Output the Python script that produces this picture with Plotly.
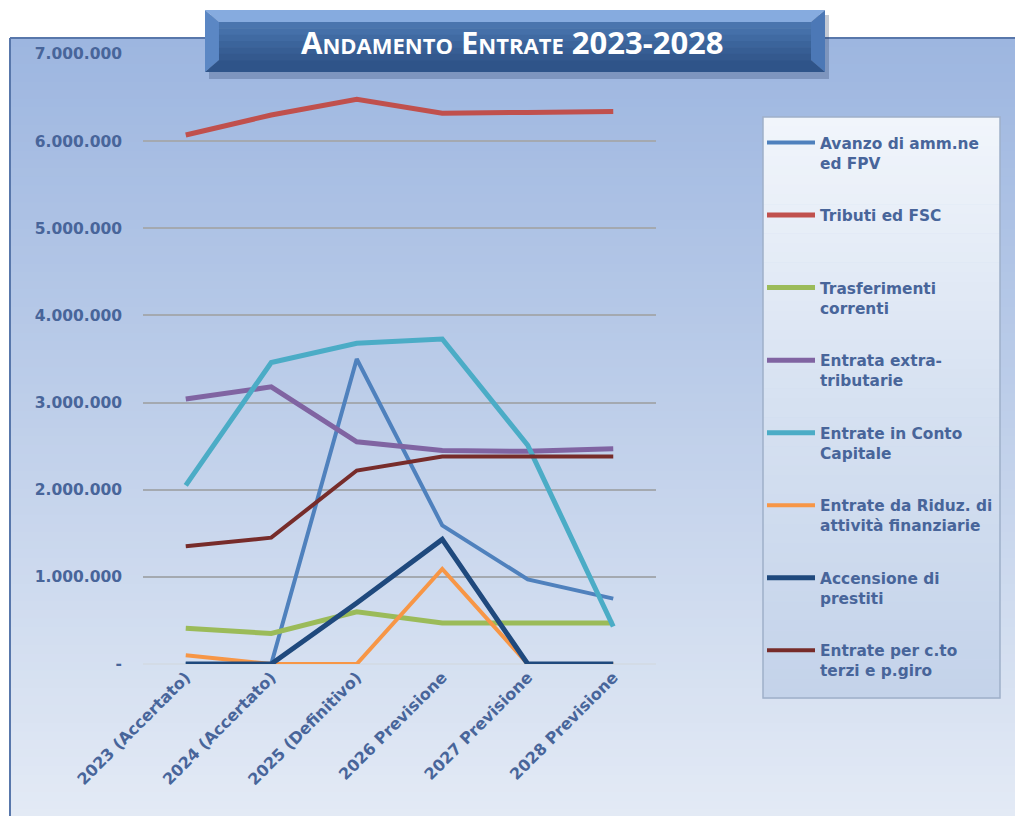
import plotly.graph_objects as go

W, H = 1015, 816
# plot area in pixels
PL, PR, PT, PB = 143, 656, 54, 664

categories = ["2023 (Accertato)", "2024 (Accertato)", "2025 (Definitivo)",
              "2026 Previsione", "2027 Previsione", "2028 Previsione"]

avanzo = [0, 0, 3500000, 1590000, 970000, 750000]
tributi = [6070000, 6300000, 6480000, 6320000, 6330000, 6340000]
trasferimenti = [410000, 350000, 600000, 470000, 470000, 470000]
extra_tributarie = [3040000, 3180000, 2550000, 2450000, 2440000, 2470000]
conto_capitale = [2050000, 3460000, 3680000, 3730000, 2510000, 430000]
riduz_attivita = [100000, 0, 0, 1090000, 0, 0]
accensione_prestiti = [0, 0, 700000, 1430000, 0, 0]
conto_terzi = [1350000, 1450000, 2220000, 2380000, 2380000, 2380000]

series_names = [
    "Avanzo di amm.ne<br>ed FPV",
    "Tributi ed FSC<br>\u00a0",
    "Trasferimenti<br>correnti",
    "Entrata extra-<br>tributarie",
    "Entrate in Conto<br>Capitale",
    "Entrate da Riduz. di<br>attività finanziarie",
    "Accensione di<br>prestiti",
    "Entrate per c.to<br>terzi e p.giro",
]
series_values = [avanzo, tributi, trasferimenti, extra_tributarie,
                 conto_capitale, riduz_attivita, accensione_prestiti, conto_terzi]
series_colors = ["#4f81bd", "#c0504d", "#9bbb59", "#8064a2",
                 "#4bacc6", "#f79646", "#1f497d", "#772c2a"]
series_widths = [4, 5, 5, 5, 5, 4, 5, 4]

y_ticks = [0, 1000000, 2000000, 3000000, 4000000, 5000000, 6000000, 7000000]
y_ticktext = ["-", "1.000.000", "2.000.000", "3.000.000", "4.000.000",
              "5.000.000", "6.000.000", "7.000.000"]

TXT = "#48659a"
FONT = "DejaVu Sans"


def px(x):
    return (x - PL) / (PR - PL)


def py(y):
    return (PB - y) / (PB - PT)


def hexmix(c1, c2, t):
    a = [int(c1[i:i + 2], 16) for i in (1, 3, 5)]
    b = [int(c2[i:i + 2], 16) for i in (1, 3, 5)]
    m = [round(a[k] + (b[k] - a[k]) * t) for k in range(3)]
    return "#%02x%02x%02x" % tuple(m)


def vgradient(x0, y0, x1, y1, stops, n):
    out = []
    step = (y1 - y0) / n
    for i in range(n):
        t = i / (n - 1)
        # piecewise linear colour between stops
        for j in range(len(stops) - 1):
            if stops[j][0] <= t <= stops[j + 1][0]:
                lt = (t - stops[j][0]) / (stops[j + 1][0] - stops[j][0])
                col = hexmix(stops[j][1], stops[j + 1][1], lt)
                break
        ya, yb = y0 + i * step, y0 + (i + 1) * step + 0.6
        out.append(dict(type="rect", xref="paper", yref="paper", layer="below",
                        x0=px(x0), x1=px(x1), y0=py(yb), y1=py(ya),
                        line_width=0, fillcolor=col))
    return out


shapes = []
# chart background
shapes += vgradient(10, 38, W + 5, H + 2,
                    [(0, "#9db6e0"), (0.45, "#bccde9"), (1, "#e3eaf5")], 90)
# outer frame
shapes.append(dict(type="line", xref="paper", yref="paper", layer="below",
                   x0=px(10), x1=px(W + 5), y0=py(38), y1=py(38),
                   line=dict(color="#5877ab", width=2)))
shapes.append(dict(type="line", xref="paper", yref="paper", layer="below",
                   x0=px(10), x1=px(10), y0=py(38), y1=py(H + 2),
                   line=dict(color="#5877ab", width=2)))
# legend panel
shapes += vgradient(763, 117, 1000, 698,
                    [(0, "#f1f5fb"), (0.5, "#d6e1f1"), (1, "#c4d3ea")], 60)
shapes.append(dict(type="rect", xref="paper", yref="paper", layer="below",
                   x0=px(763), x1=px(1000), y0=py(698), y1=py(117),
                   line=dict(color="#9fb0c9", width=1.5), fillcolor="rgba(0,0,0,0)"))


def poly(pts, color):
    d = "M " + " L ".join("%f,%f" % (px(x), py(y)) for x, y in pts) + " Z"
    return dict(type="path", xref="paper", yref="paper", layer="above",
                path=d, fillcolor=color, line_width=0)


# title banner
shapes.append(poly([(209, 15), (829, 15), (829, 79), (209, 79)], "rgba(40,60,100,0.28)"))
shapes.append(poly([(205, 10), (825, 10), (811, 22), (219, 22)], "#86abdf"))
shapes.append(poly([(205, 10), (219, 22), (219, 60), (205, 72)], "#5b87c4"))
shapes.append(poly([(825, 10), (811, 22), (811, 60), (825, 72)], "#4c78b6"))
shapes.append(poly([(205, 72), (219, 60), (811, 60), (825, 72)], "#2f5489"))
for i, c in enumerate(["#4a75ae", "#4570a9", "#406aa2", "#3b649b", "#375e94", "#34598e"]):
    y0 = 22 + i * 38 / 6
    shapes.append(poly([(219, y0), (811, y0), (811, y0 + 38 / 6 + 0.5), (219, y0 + 38 / 6 + 0.5)], c))

fig = go.Figure()
for i, (name, vals, col, lw) in enumerate(zip(series_names, series_values,
                                              series_colors, series_widths)):
    fig.add_trace(go.Scatter(
        x=categories, y=vals, name=name, mode="lines",
        line=dict(color=col, width=lw), legendgroup="g%d" % i,
        cliponaxis=False,
    ))

fig.update_layout(
    width=W, height=H,
    margin=dict(l=PL, r=W - PR, t=PT, b=H - PB, pad=0),
    paper_bgcolor="white",
    plot_bgcolor="rgba(0,0,0,0)",
    shapes=shapes,
    showlegend=True,
    legend=dict(
        x=px(762), y=py(126), xanchor="left", yanchor="top",
        bgcolor="rgba(0,0,0,0)", borderwidth=0,
        font=dict(family=FONT, size=15.4, color=TXT, weight="bold"),
        tracegroupgap=29.5, valign="top", itemwidth=48,
    ),
    annotations=[dict(
        xref="paper", yref="paper", x=px(512), y=py(42),
        xanchor="center", yanchor="middle", showarrow=False,
        text="<b>Andamento Entrate 2023-2028</b>",
        font=dict(family="Open Sans", size=31, color="white", variant="small-caps"),
    )],
    xaxis=dict(
        type="category", range=[-0.5, 5.5], showgrid=False, zeroline=False,
        showline=False, ticks="", tickangle=-45,
        tickfont=dict(family=FONT, size=16, color=TXT, weight="bold"),
    ),
    yaxis=dict(
        range=[0, 7000000], tickvals=y_ticks, ticktext=y_ticktext,
        showgrid=True, gridcolor="#a4a9b0", gridwidth=1.5,
        zeroline=True, zerolinecolor="#d3dbe6", zerolinewidth=1.5,
        showline=False, ticks="", ticklabelstandoff=20,
        tickfont=dict(family=FONT, size=15.5, color=TXT, weight="bold"),
    ),
)

fig.write_html("out.html")
